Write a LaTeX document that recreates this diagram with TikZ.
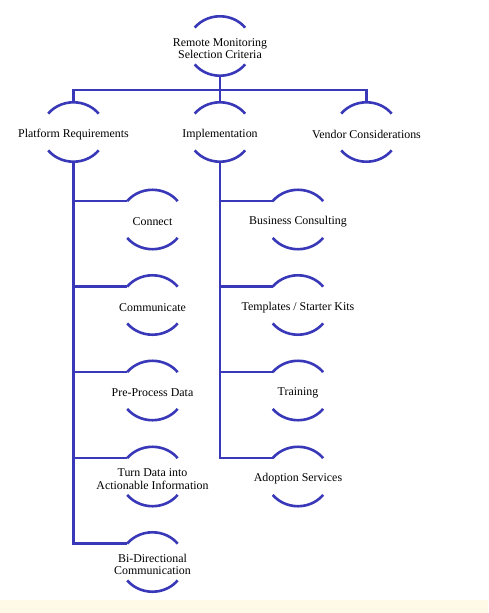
\documentclass[tikz,border=0pt]{standalone}
\usepackage{fontspec}
\setmainfont{Liberation Serif}
\usetikzlibrary{shapes.geometric}
\definecolor{arcblue}{RGB}{56,56,184}
\definecolor{paleyellow}{RGB}{255,250,232}
\newcommand{\critarcs}[1]{%
  \draw[arcline] (#1.144) arc[start angle=142,end angle=38,x radius=32pt,y radius=29.5pt]
                 (#1.216) arc[start angle=218,end angle=322,x radius=32pt,y radius=29.5pt];}

\begin{document}
\begin{tikzpicture}[x=1pt,y=1pt,
  crit/.style={ellipse,minimum width=64pt,minimum height=59pt,inner sep=0pt},
  arcline/.style={draw=arcblue,line width=2.6pt},
  link/.style={draw=arcblue,line width=2.6pt},
  every label/.style={align=center,font=\fontsize{11.9}{12.5}\selectfont,inner sep=0pt,yshift=-2.5pt}]
\useasboundingbox (0,0) rectangle (488,-613);
\fill[paleyellow] (0,-600) rectangle (488,-613);
% top and second level
\node[crit,label={center:Remote Monitoring\\Selection Criteria}] (root) at (220,-46) {};
\node[crit,label={center:Platform Requirements}] (plat) at (73.5,-132) {};
\node[crit,label={center:Implementation}] (impl) at (220,-132) {};
\node[crit,label={center:Vendor Considerations}] (vend) at (366.5,-132) {};
% platform requirements
\node[crit,label={center:Connect}] (conn) at (152.5,-219.5) {};
\node[crit,label={center:Communicate}] (comm) at (152.5,-305) {};
\node[crit,label={center:Pre-Process Data}] (prep) at (152.5,-390.5) {};
\node[crit,label={center:Turn Data into\\Actionable Information}] (turn) at (152.5,-476.5) {};
\node[crit,label={center:Bi-Directional\\Communication}] (bidi) at (152.5,-562) {};
% implementation
\node[crit,label={center:Business Consulting}] (cons) at (298,-219.5) {};
\node[crit,label={center:Templates / Starter Kits}] (tmpl) at (298,-305) {};
\node[crit,label={center:Training}] (train) at (298,-390.5) {};
\node[crit,label={center:Adoption Services}] (adopt) at (298,-476.5) {};
\foreach \n in {root,plat,impl,vend,conn,comm,prep,turn,bidi,cons,tmpl,train,adopt}
  \critarcs{\n}
\coordinate (bar) at (220,-90);
\draw[link] (root.south) -- (bar);
\draw[link] (bar) -| (plat.north) (bar) -- (impl.north) (bar) -| (vend.north);
\foreach \c in {conn,comm,prep,turn,bidi}
  \draw[link] (plat.south) |- (\c.144);
\foreach \c in {cons,tmpl,train,adopt}
  \draw[link] (impl.south) |- (\c.144);
\end{tikzpicture}
\end{document}
